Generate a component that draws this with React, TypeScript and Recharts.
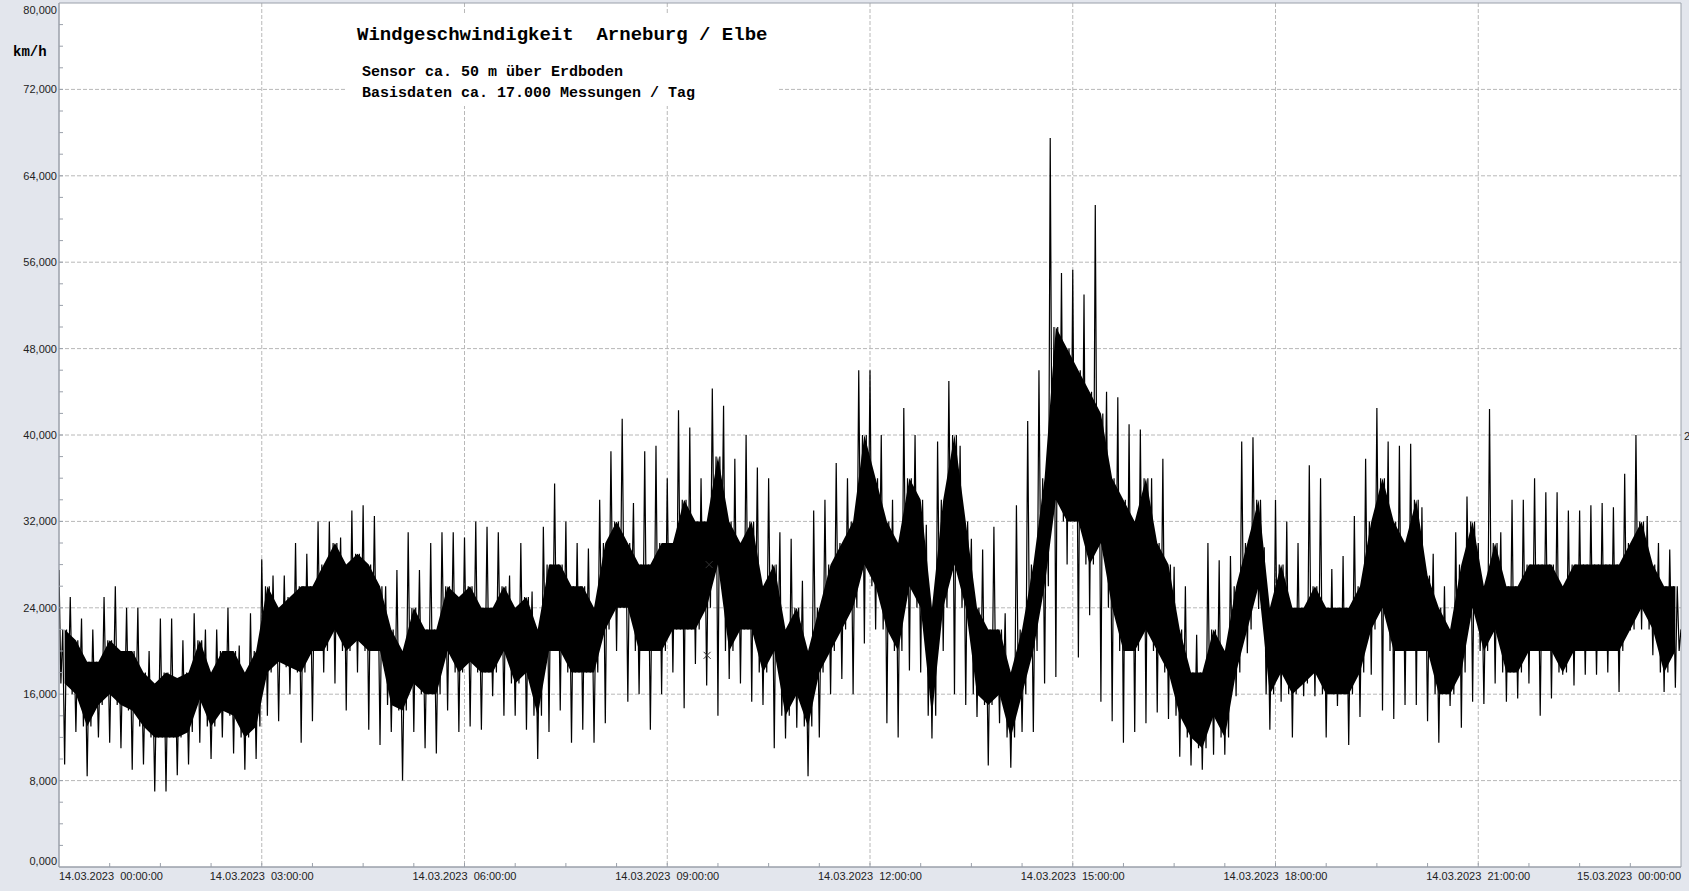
import React from 'react';
import {
  ComposedChart,
  Line,
  Area,
  Scatter,
  XAxis,
  YAxis,
  CartesianGrid,
  ReferenceArea,
} from 'recharts';

// 10-minute bins over 14.03.2023 00:00 .. 15.03.2023 00:00 (144 bins)
// hi: highest spike, coreHi/coreLo: dense band, lo: lowest spike (km/h)
const hi: number[] = [
  27.5, 25, 23, 22, 25, 26, 24, 24, 20, 23, 23, 21, 23.5, 22, 22, 24, 20.5, 23.5, 28.5, 27, 27, 30, 29, 32,
  32, 30.5, 33, 33.5, 32.5, 26, 27.5, 31, 27.5, 30, 31, 31, 30.5, 32, 31.5, 31, 27, 30, 25.5, 31.5, 35.5, 32, 30, 29.5,
  34, 38.5, 41.5, 33.7, 38.5, 39, 36, 42.3, 40.7, 36, 44.3, 42.7, 37.8, 40, 37, 36, 31, 30.4, 26.5, 33, 34, 37.4, 36, 46,
  46, 40, 34, 42.5, 40, 31.7, 39.4, 45, 39, 30.4, 29.4, 31.5, 23.5, 33.5, 41.3, 46, 67.5, 55, 55.3, 53, 61.3, 44, 43.5, 41,
  40.5, 36, 37.8, 27.8, 26, 21.5, 30, 28.4, 28.8, 39.4, 39.8, 29.6, 34, 32, 30, 37.2, 36, 27.6, 28.8, 32.5, 37.8, 42.5, 39.4, 39,
  39.2, 33.3, 29, 26, 31, 34.3, 30, 42.4, 31, 34, 34, 36, 34.7, 34.7, 33, 33, 33.5, 33.7, 33.3, 36.4, 40, 32.5, 30, 29.4,
];
const coreHi: number[] = [
  22, 21, 19, 19, 21, 20, 20, 18, 17, 18, 17.5, 18, 21, 18, 20, 20, 18, 20, 26, 24, 25, 26, 26, 28,
  30, 28, 29, 28, 26, 22, 20, 24, 22, 22, 26, 25, 26, 24, 24, 26, 24, 25, 22, 28, 28, 26, 26, 24,
  30, 32, 30, 28, 28, 30, 30, 34, 32, 32, 38, 32, 30, 32, 26, 28, 22, 24, 20, 24, 28, 30, 32, 40,
  36, 32, 30, 36, 34, 24, 34, 40, 32, 24, 22, 22, 18, 22, 28, 36, 50, 48, 46, 44, 42, 36, 34, 32,
  36, 30, 28, 22, 18, 18, 22, 20, 26, 30, 34, 24, 28, 24, 24, 26, 24, 24, 24, 26, 32, 36, 32, 30,
  34, 27, 24, 22, 28, 32, 26, 30, 26, 26, 28, 28, 28, 26, 28, 28, 28, 28, 28, 30, 32, 28, 26, 26,
];
const coreLo: number[] = [
  17, 16, 13, 15, 16, 15, 14.5, 13, 12, 12, 12, 12.5, 15.5, 13, 14.5, 14, 12, 13, 18, 19, 18.5, 18, 20, 20,
  22, 20, 21, 20, 20, 15, 14.5, 17, 16, 16, 20, 18, 19, 18, 18, 20, 17, 18, 14, 20, 20, 18, 18, 18,
  22, 24, 24, 20, 20, 20, 22, 22, 22, 24, 28, 20, 22, 22, 18, 20, 14, 16, 13, 18, 20, 22, 24, 28,
  26, 22, 20, 26, 24, 14, 24, 28, 24, 16, 15, 16, 12, 16, 20, 26, 34, 32, 32, 28, 30, 24, 20, 20,
  22, 20, 18, 14, 12, 11, 14, 12, 18, 22, 26, 16, 18, 16, 17, 18, 16, 16, 16, 18, 22, 24, 20, 20,
  20, 20, 16, 16, 18, 24, 20, 22, 18, 18, 20, 20, 20, 18, 20, 20, 20, 20, 20, 22, 24, 22, 18, 20,
];
const lo: number[] = [
  9.5, 12.5, 8.4, 12, 11.5, 11, 9, 9.5, 7, 7, 8.5, 9.5, 11.5, 10, 12, 10.5, 9, 10, 14, 13.5, 16, 11.5, 13.5, 18,
  17, 14.5, 18, 12.7, 11.3, 12.5, 8, 12.5, 11, 10.5, 14.5, 12.5, 13, 12.7, 15.8, 14, 14, 12.7, 10, 12.5, 14.5, 11.5, 12.7, 11.5,
  13.3, 20, 15.3, 16, 12.7, 16, 18, 14.7, 18.8, 16.8, 14, 17.4, 17, 15.3, 15, 11, 11.9, 12.9, 8.4, 12, 16, 17.4, 16, 20.7,
  22, 13.3, 12, 18.2, 18, 11.9, 20, 16, 15, 13.9, 9.4, 13.3, 9.2, 12.5, 12.5, 17, 17.6, 28, 19.4, 23.3, 15.3, 13.5, 11.5, 12.5,
  13.3, 14.3, 13.7, 10.2, 9.4, 9, 10.4, 10.4, 15.8, 19.8, 23.9, 12.7, 15.3, 12, 15.8, 15.8, 12, 14.9, 11.3, 13.9, 17.8, 14.5, 13.7, 15,
  15, 13.5, 11.5, 14.9, 12.9, 15.3, 15.1, 17, 15.3, 15.6, 17, 14, 15.6, 17.8, 16.8, 17.8, 17.8, 18, 16.2, 21.9, 22, 19.6, 16.2, 16.6,
];
const lastValue = 22;

// min/max markers (hours, km/h)
const markerHours: number[] = [9.62, 9.59];
const markerValues: number[] = [28.0, 19.6];

const timeLabels: string[] = [
  '14.03.2023  00:00:00',
  '14.03.2023  03:00:00',
  '14.03.2023  06:00:00',
  '14.03.2023  09:00:00',
  '14.03.2023  12:00:00',
  '14.03.2023  15:00:00',
  '14.03.2023  18:00:00',
  '14.03.2023  21:00:00',
  '15.03.2023  00:00:00',
];

const title = 'Windgeschwindigkeit  Arneburg / Elbe';
const subtitle1 = 'Sensor ca. 50 m über Erdboden';
const subtitle2 = 'Basisdaten ca. 17.000 Messungen / Tag';
const unitLabel = 'km/h';

const BINS_PER_HOUR = 6;
const binH = 1 / BINS_PER_HOUR;

// each bin is drawn as a sequence of its read levels
const lineData: { t: number; v: number }[] = [];
hi.forEach((_, k) => {
  const t0 = k * binH;
  const levels = [hi[k], coreLo[k], coreHi[k], lo[k], coreHi[k], coreLo[k]];
  const s = binH / levels.length;
  levels.forEach((v, j) => lineData.push({ t: t0 + j * s, v }));
});
lineData.push({ t: 24, v: lastValue });

const areaData = hi.map((_, k) => ({ t: (k + 0.5) * binH, core: [coreLo[k], coreHi[k]] }));
const markerData = markerHours.map((t, i) => ({ t, v: markerValues[i] }));

const xTicks = Array.from({ length: 33 }, (_, i) => i * 0.75);
const yTicks = Array.from({ length: 41 }, (_, i) => i * 2);
const gridY = [8, 16, 24, 32, 40, 48, 56, 64, 72];
const gridX = [3, 6, 9, 12, 15, 18, 21];

const AXIS = '#9aa0aa';
const TICKFONT = '"Liberation Sans", Arial, sans-serif';

const XTick = (props: any) => {
  const { x, y, payload } = props;
  const v = payload.value as number;
  const idx = Math.round(v / 3);
  const major = Math.abs(v - idx * 3) < 1e-6;
  const anchor = v === 0 ? 'start' : v === 24 ? 'end' : 'middle';
  return (
    <g>
      {v > 0 && v < 24 && <line x1={x} x2={x} y1={y} y2={y - 4} stroke={AXIS} />}
      {major && (
        <text
          x={x}
          y={y + 13}
          textAnchor={anchor}
          fontSize={11}
          fontFamily={TICKFONT}
          fill="#222"
          style={{ whiteSpace: 'pre' }}
        >
          {timeLabels[idx]}
        </text>
      )}
    </g>
  );
};

const YTick = (props: any) => {
  const { x, y, payload } = props;
  const v = payload.value as number;
  const major = v % 8 === 0;
  const dy = v === 0 ? -2 : v === 80 ? 11 : 4;
  return (
    <g>
      {v > 0 && v < 80 && <line x1={x} x2={x + 4} y1={y} y2={y} stroke={AXIS} />}
      {major && (
        <text x={x - 2} y={y + dy} textAnchor="end" fontSize={11} fontFamily={TICKFONT} fill="#222">
          {v.toFixed(3).replace('.', ',')}
        </text>
      )}
    </g>
  );
};

const Cross = (props: any) => {
  const { cx, cy } = props;
  const r = 3.5;
  return (
    <g stroke="#333" strokeWidth={1}>
      <line x1={cx - r} y1={cy - r} x2={cx + r} y2={cy + r} />
      <line x1={cx - r} y1={cy + r} x2={cx + r} y2={cy - r} />
    </g>
  );
};

const MONO = '"Liberation Mono", "Courier New", monospace';

export default function App() {
  return (
    <div
      style={{
        position: 'absolute',
        left: 0,
        top: 0,
        width: 1689,
        height: 891,
        background: '#e3e6ed',
        overflow: 'hidden',
      }}
    >
      <ComposedChart
        width={1689}
        height={891}
        data={lineData}
        margin={{ top: 3, right: 8, bottom: 0, left: 0 }}
      >
        <CartesianGrid
          fill="#ffffff"
          stroke="#b8b8b8"
          strokeDasharray="4 2"
          horizontalValues={gridY}
          verticalValues={gridX}
        />
        <XAxis
          type="number"
          dataKey="t"
          domain={[0, 24]}
          ticks={xTicks}
          interval={0}
          tickSize={0}
          tickMargin={0}
          tickLine={false}
          height={24}
          stroke={AXIS}
          tick={<XTick />}
          allowDataOverflow
        />
        <YAxis
          type="number"
          domain={[0, 80]}
          ticks={yTicks}
          interval={0}
          tickSize={0}
          tickMargin={0}
          tickLine={false}
          width={59}
          stroke={AXIS}
          tick={<YTick />}
          allowDataOverflow
        />
        <ReferenceArea x1={0} x2={24} y1={0} y2={80} fill="none" stroke={AXIS} ifOverflow="visible" />
        <Area
          data={areaData}
          dataKey="core"
          type="linear"
          stroke="none"
          fill="#000"
          fillOpacity={1}
          isAnimationActive={false}
        />
        <Line
          dataKey="v"
          type="linear"
          stroke="#000"
          strokeWidth={1.2}
          dot={false}
          isAnimationActive={false}
        />
        <Scatter data={markerData} dataKey="v" shape={<Cross />} isAnimationActive={false} />
      </ComposedChart>
      <svg
        width={1689}
        height={891}
        style={{ position: 'absolute', left: 0, top: 0, pointerEvents: 'none' }}
      >
        <rect x={345} y={13} width={433} height={93} fill="#ffffff" />
        <text x={357} y={40} fontFamily={MONO} fontWeight="bold" fontSize={19} fill="#000" style={{ whiteSpace: 'pre' }}>
          {title}
        </text>
        <text x={362} y={76} fontFamily={MONO} fontWeight="bold" fontSize={15} fill="#000">
          {subtitle1}
        </text>
        <text x={362} y={97} fontFamily={MONO} fontWeight="bold" fontSize={15} fill="#000">
          {subtitle2}
        </text>
        <text x={13} y={56} fontFamily={MONO} fontWeight="bold" fontSize={14} fill="#000">
          {unitLabel}
        </text>
        <text x={1684} y={440} fontFamily={TICKFONT} fontSize={11} fill="#222">
          2
        </text>
      </svg>
    </div>
  );
}
